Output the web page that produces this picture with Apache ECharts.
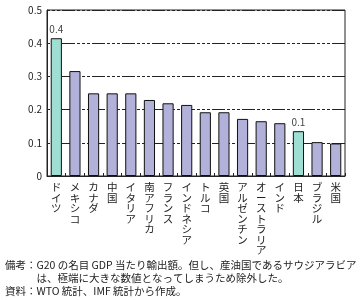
<!DOCTYPE html>
<html><head><meta charset="utf-8">
<script src="https://cdn.jsdelivr.net/npm/echarts@6/dist/echarts.min.js"></script>
<style>html,body{margin:0;padding:0;background:#fff}#c{width:360px;height:300px}</style>
</head><body><div id="c"></div>
<script>
const categories = ['ドイツ','メキシコ','カナダ','中国','イタリア','南アフリカ','フランス','インドネシア','トルコ','英国','アルゼンチン','オーストラリア','インド','日本','ブラジル','米国'];
const values = [0.415,0.316,0.249,0.249,0.249,0.229,0.219,0.214,0.192,0.192,0.172,0.165,0.159,0.135,0.102,0.098];
const highlighted = ['ドイツ','日本'];
const yTicks = [0,0.1,0.2,0.3,0.4,0.5];
const notes = ['備考：G20 の名目 GDP 当たり輸出額。但し、産油国であるサウジアラビア','　　　は、極端に大きな数値となってしまうため除外した。','資料：WTO 統計、IMF 統計から作成。'];

const FONT = '"Noto Sans CJK JP", sans-serif';
const chart = echarts.init(document.getElementById('c'), null, {renderer:'canvas'});
chart.setOption({
  animation:false,
  textStyle:{fontFamily:FONT},
  grid:{left:47,right:15,top:10,bottom:124,show:true,borderColor:'#222',borderWidth:1,backgroundColor:'transparent'},
  xAxis:{type:'category',data:categories,
    axisLine:{lineStyle:{color:'#222',width:1}},
    axisTick:{show:true,inside:true,length:3,lineStyle:{color:'#222'}},
    axisLabel:{interval:0,margin:6,fontSize:10.5,lineHeight:10.5,color:'#222',fontFamily:FONT,
      formatter:v=>v.split('').join('\n'),verticalAlign:'top'}},
  yAxis:{type:'value',min:yTicks[0],max:yTicks[yTicks.length-1],interval:0.1,
    axisLine:{show:true,lineStyle:{color:'#222'}},
    axisTick:{show:false},
    axisLabel:{margin:5,fontSize:10,color:'#222',fontFamily:FONT,formatter:v=>String(Math.round(v*10)/10)},
    splitLine:{show:true,lineStyle:{color:'#222',width:1,type:[3,2,3,2,3,2,13,2]}}},
  series:[{type:'bar',barWidth:'60%',
    data:values.map((v,i)=>({value:v,
      itemStyle:{color:highlighted.includes(categories[i])?'#9fdfd3':'#b1b1da',borderColor:'#111',borderWidth:1},
      label:{show:highlighted.includes(categories[i]),position:'top',distance:4,fontSize:10,color:'#444',fontFamily:FONT,formatter:p=>p.value.toFixed(1)}}))
  }],
  graphic: notes.map((t,i)=>({type:'text',left:5,top:260+i*13,style:{text:t,font:'10.5px '+FONT,fill:'#222'}}))
});
</script></body></html>
